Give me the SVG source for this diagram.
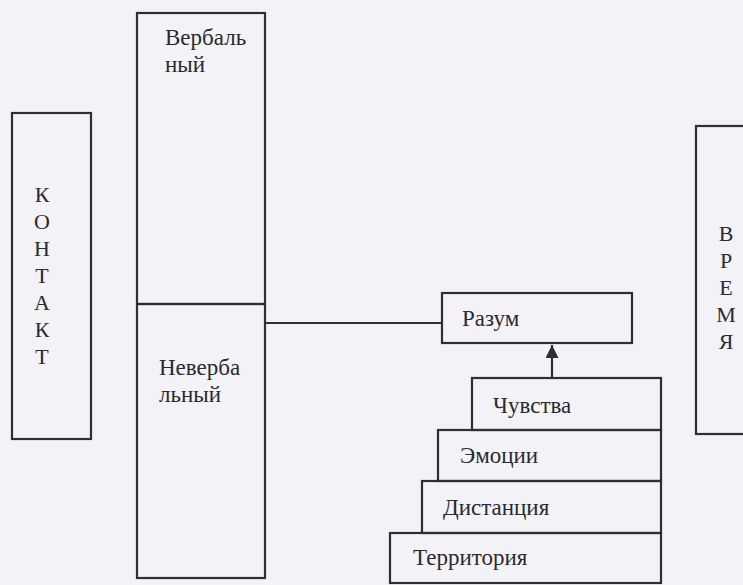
<svg xmlns="http://www.w3.org/2000/svg" width="743" height="585" viewBox="0 0 743 585">
<defs>
<style>
.box{fill:none;stroke:#2e2e33;stroke-width:2.2}
.ln{fill:none;stroke:#2e2e33;stroke-width:2.2}
.t{font-size:23px;fill:#2a2a30}
.v{font-size:22px;fill:#2a2a30;text-anchor:middle}
</style>
<marker id="ah" viewBox="0 0 10 10" refX="10" refY="5" markerWidth="15" markerHeight="13" markerUnits="userSpaceOnUse" orient="auto">
<path d="M0,0 L10,5 L0,10 Z" fill="#2e2e33"/>
</marker>
</defs>
<rect x="0" y="0" width="743" height="585" fill="#f3f2f7"/>
<g font-family="Liberation Serif, DejaVu Serif, serif">
<g id="kontakt">
<rect class="box" x="12" y="113" width="79" height="326"/>
<text class="v" x="42" y="202">К</text>
<text class="v" x="42" y="229">О</text>
<text class="v" x="42" y="256">Н</text>
<text class="v" x="42" y="283">Т</text>
<text class="v" x="42" y="310">А</text>
<text class="v" x="42" y="337">К</text>
<text class="v" x="42" y="364">Т</text>
</g>
<g id="verbal">
<rect class="box" x="137" y="13" width="128" height="291"/>
<text class="t" x="165" y="45">Вербаль</text>
<text class="t" x="165" y="72">ный</text>
</g>
<g id="nonverbal">
<rect class="box" x="137" y="304" width="128" height="274"/>
<text class="t" x="159" y="375">Неверба</text>
<text class="t" x="159" y="402">льный</text>
</g>
<g id="razum">
<rect class="box" x="442" y="293" width="190" height="50"/>
<text class="t" x="462" y="326">Разум</text>
</g>
<g id="chuvstva">
<rect class="box" x="472" y="378" width="189" height="52"/>
<text class="t" x="493" y="413">Чувства</text>
</g>
<g id="emocii">
<rect class="box" x="438" y="430" width="223" height="51"/>
<text class="t" x="460" y="463">Эмоции</text>
</g>
<g id="distancia">
<rect class="box" x="422" y="481" width="239" height="52"/>
<text class="t" x="443" y="515">Дистанция</text>
</g>
<g id="territoria">
<rect class="box" x="390" y="533" width="271" height="50"/>
<text class="t" x="413" y="565">Территория</text>
</g>
<g id="vremya">
<rect class="box" x="696" y="126" width="60" height="308"/>
<text class="v" x="726" y="241">В</text>
<text class="v" x="726" y="268">Р</text>
<text class="v" x="726" y="295">Е</text>
<text class="v" x="726" y="322">М</text>
<text class="v" x="726" y="349">Я</text>
</g>
</g>
<g id="connectors">
<line class="ln" x1="265" y1="323" x2="442" y2="323"/>
<line class="ln" x1="552" y1="378" x2="552" y2="345" marker-end="url(#ah)"/>
</g>
</svg>
